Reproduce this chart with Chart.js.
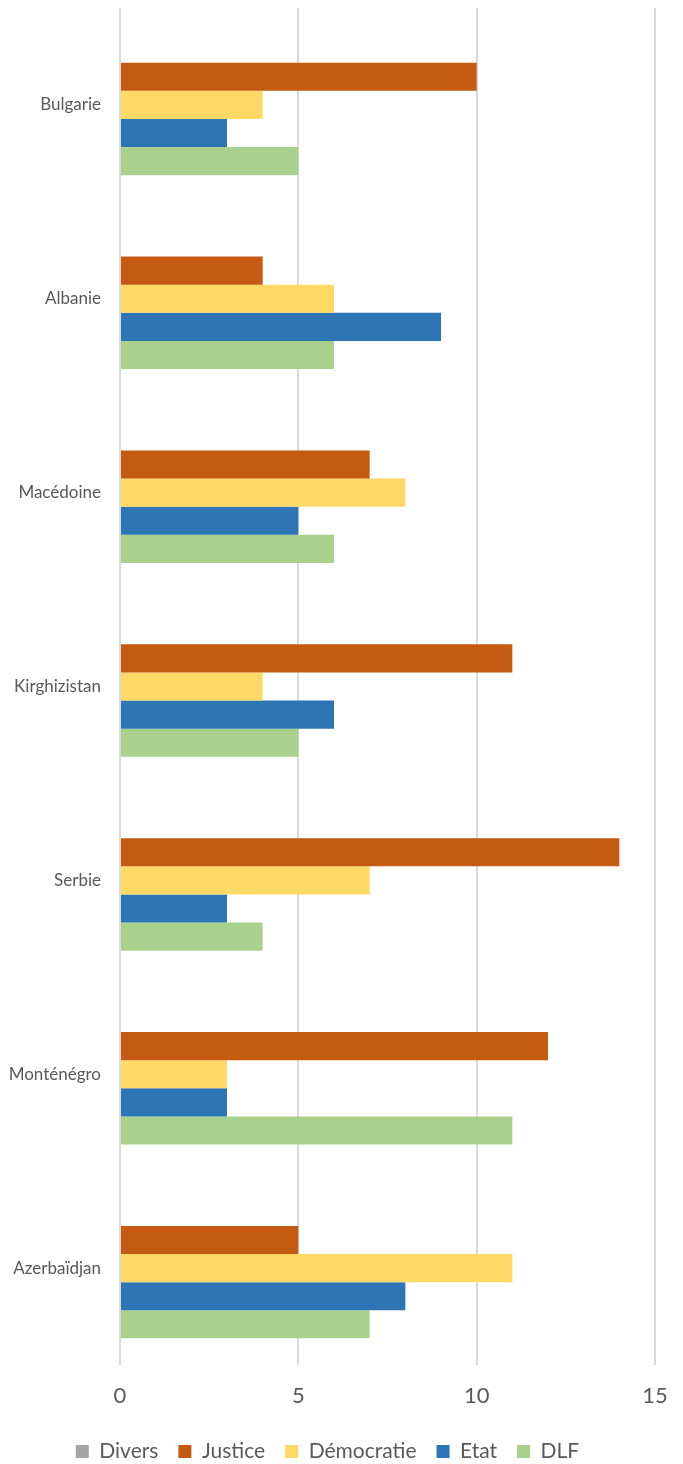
<!DOCTYPE html>
<html>
<head>
<meta charset="utf-8">
<script src="https://cdn.jsdelivr.net/npm/chart.js@4/dist/chart.umd.min.js"></script>
<style>
html,body{margin:0;padding:0;background:#fff;}
#wrap{width:683px;height:1464px;position:relative;}
</style>
</head>
<body>
<div id="wrap"><canvas id="c" width="683" height="1464"></canvas></div>
<script>
const categories = ["Bulgarie","Albanie","Macédoine","Kirghizistan","Serbie","Monténégro","Azerbaïdjan"];
const seriesNames = ["Divers","Justice","Démocratie","Etat","DLF"];
const divers     = [0,0,0,0,0,0,0];
const justice    = [10,4,7,11,14,12,5];
const democratie = [4,6,8,4,7,3,11];
const etat       = [3,9,5,6,3,3,8];
const dlf        = [5,6,6,5,4,11,7];
const xTicks = [0,5,10,15];
const colors = ["#A5A5A5","#C55A11","#FFD966","#2E75B6","#A9D18E"];
const seriesData = [divers, justice, democratie, etat, dlf];

const FONT = "Lato, 'Open Sans', sans-serif";
new Chart(document.getElementById('c'), {
  type: 'bar',
  data: {
    labels: categories,
    datasets: seriesNames.map((n,i)=>({
      label: n,
      data: seriesData[i],
      backgroundColor: colors[i],
      borderWidth: 0,
      categoryPercentage: 0.725,
      barPercentage: 1.0
    }))
  },
  options: {
    indexAxis: 'y',
    responsive: false,
    animation: false,
    layout: { padding: { left: 0, right: 28, top: 8, bottom: -8 } },
    scales: {
      x: {
        min: 0, max: 15,
        afterBuildTicks: (s)=>{ s.ticks = xTicks.map(v=>({value:v})); },
        grid: { color: '#D9D9D9', lineWidth: 2, drawTicks: false },
        border: { display: false },
        ticks: { color: '#595959', font: { family: FONT, size: 22 }, padding: 18 },
        afterFit: (s)=>{ s.height = 56; s.paddingLeft = 0; s.paddingRight = 0; }
      },
      y: {
        grid: { display: false },
        border: { display: false },
        ticks: { color: '#595959', font: { family: FONT, size: 17 }, padding: 11 },
        afterFit: (s)=>{ s.width = 120; s.paddingTop = 0; s.paddingBottom = 0; }
      }
    },
    plugins: {
      legend: {
        position: 'bottom',
        labels: { color: '#595959', font: { family: FONT, size: 21 }, boxWidth: 13, boxHeight: 13, padding: 20 }
      },
      tooltip: { enabled: false }
    }
  }
});
</script>
</body>
</html>
